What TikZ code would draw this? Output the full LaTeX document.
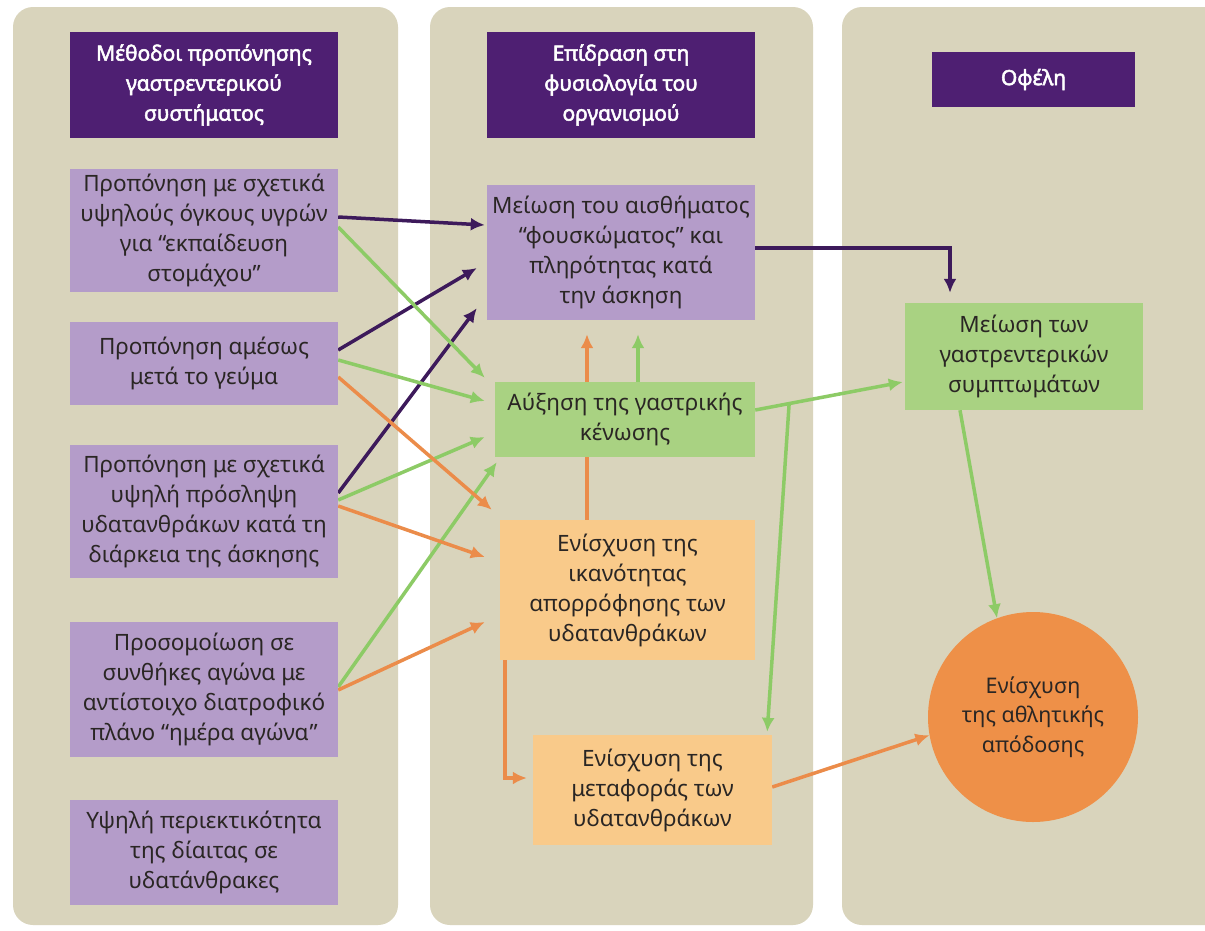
\documentclass[tikz,border=0pt]{standalone}
\usepackage{fontspec}
\setmainfont{Noto Sans}[AutoFakeBold=2.5]
\usetikzlibrary{arrows.meta}
\definecolor{panel}{HTML}{D9D4BC}
\definecolor{hdpurple}{HTML}{4E1F72}
\definecolor{boxpurple}{HTML}{B49CC9}
\definecolor{boxgreen}{HTML}{A9D282}
\definecolor{boxorange}{HTML}{F9CA8A}
\definecolor{circorange}{HTML}{EE9048}
\definecolor{arrpurple}{HTML}{3D1A5B}
\definecolor{arrgreen}{HTML}{8DCB66}
\definecolor{arrorange}{HTML}{EB8C4A}
\definecolor{ink}{HTML}{2A2624}
\pgfdeclarelayer{panels}
\pgfdeclarelayer{wires}
\pgfsetlayers{panels,wires,main}

\begin{document}
\begin{tikzpicture}[x=1pt, y=-1pt,
  head/.style={fill=hdpurple, text=white, align=center, inner sep=0pt,
    font=\fontsize{21}{30}\selectfont\bfseries},
  box/.style={align=center, inner sep=0pt, text=ink,
    font=\fontsize{22.5}{30}\selectfont},
  meth/.style={box, fill=boxpurple, minimum width=268pt},
  parrow/.style={draw=arrpurple, line width=3.5pt, -{Latex[length=14pt,width=13pt]}},
  garrow/.style={draw=arrgreen, line width=3.5pt, -{Latex[length=14pt,width=13pt]}},
  oarrow/.style={draw=arrorange, line width=3.5pt, -{Latex[length=14pt,width=13pt]}}]
  \useasboundingbox (0,0) rectangle (1205,930);

  %---------------- panels ----------------
  \begin{pgfonlayer}{panels}
    \fill[white] (0,0) rectangle (1205,930);
    \fill[panel, rounded corners=20pt] (13,7) rectangle (398,925);
    \fill[panel, rounded corners=20pt] (430,7) rectangle (813,925);
    \fill[panel, rounded corners=20pt] (842,7) rectangle (1240,925);
  \end{pgfonlayer}

  %---------------- headers ----------------
  \node[head, minimum width=268pt, minimum height=106pt] (H1) at (204,85)
    {Μέθοδοι προπόνησης\\γαστρεντερικού\\συστήματος};
  \node[head, minimum width=268pt, minimum height=106pt] (H2) at (621,85)
    {Επίδραση στη\\φυσιολογία του\\οργανισμού};
  \node[head, minimum width=203pt, minimum height=55pt] (H3) at (1033.5,79.5)
    {Οφέλη};

  %---------------- methods ----------------
  \node[meth, minimum height=123pt] (L1) at (204,230.5)
    {Προπόνηση με σχετικά\\υψηλούς όγκους υγρών\\για “εκπαίδευση\\στομάχου”};
  \node[meth, minimum height=83pt] (L2) at (204,363.5)
    {Προπόνηση αμέσως\\μετά το γεύμα};
  \node[meth, minimum height=133pt] (L3) at (204,511.5)
    {Προπόνηση με σχετικά\\υψηλή πρόσληψη\\υδατανθράκων κατά τη\\διάρκεια της άσκησης};
  \node[meth, minimum height=135pt] (L4) at (204,689.5)
    {Προσομοίωση σε\\συνθήκες αγώνα με\\αντίστοιχο διατροφικό\\πλάνο “ημέρα αγώνα”};
  \node[meth, minimum height=105pt] (L5) at (204,852.5)
    {Υψηλή περιεκτικότητα\\της δίαιτας σε\\υδατάνθρακες};

  %---------------- effects ----------------
  \node[box, fill=boxpurple, minimum width=268pt, minimum height=135pt] (M1) at (621,252.5)
    {Μείωση του αισθήματος\\“φουσκώματος” και\\πληρότητας κατά\\την άσκηση};
  \node[box, fill=boxgreen, minimum width=260pt, minimum height=75pt] (M2) at (625,419.5)
    {Αύξηση της γαστρικής\\κένωσης};
  \node[box, fill=boxorange, minimum width=255pt, minimum height=140pt] (M3) at (627.5,590)
    {Ενίσχυση της\\ικανότητας\\απορρόφησης των\\υδατανθράκων};
  \node[box, fill=boxorange, minimum width=239pt, minimum height=110pt] (M4) at (652.5,790)
    {Ενίσχυση της\\μεταφοράς των\\υδατανθράκων};

  %---------------- benefits ----------------
  \node[box, fill=boxgreen, minimum width=238pt, minimum height=107pt] (R1) at (1024,356.5)
    {Μείωση των\\γαστρεντερικών\\συμπτωμάτων};
  \node[box, circle, fill=circorange, minimum size=210pt, font=\fontsize{21.5}{29.5}\selectfont]
    (R2) at (1033,717) {Ενίσχυση\\της αθλητικής\\απόδοσης};

  %---------------- connectors ----------------
  \begin{pgfonlayer}{wires}
    % purple
    \draw[parrow] ([yshift=13.5pt]L1.east) -- ([xshift=-2pt,yshift=27.5pt]M1.west);
    \draw[parrow] ([yshift=13.5pt]L2.east) -- ([xshift=-10pt,yshift=-15.5pt]M1.west);
    \draw[parrow] ([yshift=18.5pt]L3.east) -- ([xshift=-10pt,yshift=12pt]M1.south west);
    \draw[parrow] ([yshift=4.5pt]M1.east) -| ([xshift=-74pt,yshift=10pt]R1.north);
    % green
    \draw[garrow] ([yshift=3.5pt]L1.east) -- ([xshift=-10pt,yshift=4pt]M2.north west);
    \draw[garrow] ([yshift=3.5pt]L2.east) -- ([xshift=-10pt,yshift=18.5pt]M2.west);
    \draw[garrow] ([yshift=11.5pt]L3.east) -- ([xshift=-10pt,yshift=-17.5pt]M2.west);
    \draw[garrow] ([yshift=2.5pt]L4.east) -- ([xshift=2pt,yshift=-5pt]M2.south west);
    \draw[garrow] ([xshift=13pt]M2.north) -- ([xshift=17pt,yshift=-14pt]M1.south);
    \draw[garrow] ([yshift=9.5pt]M2.east) -- coordinate[pos=.23] (split)
      ([xshift=-2pt,yshift=-25.5pt]R1.west);
    \draw[garrow] (split) -- ([xshift=-5pt,yshift=3pt]M4.north east);
    \draw[garrow] ([xshift=-64pt]R1.south) -- (R2.110);
    % orange
    \draw[oarrow] ([yshift=-13.5pt]L2.east) -- ([xshift=-8pt,yshift=10pt]M3.north west);
    \draw[oarrow] ([yshift=5.5pt]L3.east) -- ([xshift=-15pt,yshift=33pt]M3.west);
    \draw[oarrow] ([yshift=-0.5pt]L4.east) -- ([xshift=-15pt,yshift=-32pt]M3.west);
    \draw[oarrow] ([xshift=-40.5pt]M3.north) -- ([xshift=-34pt,yshift=-14pt]M1.south);
    \draw[oarrow] ([xshift=5pt]M3.south west) |- ([xshift=-6pt,yshift=12pt]M4.west);
    \draw[oarrow] ([yshift=3pt]M4.east) -- (R2.190);
  \end{pgfonlayer}
\end{tikzpicture}
\end{document}
